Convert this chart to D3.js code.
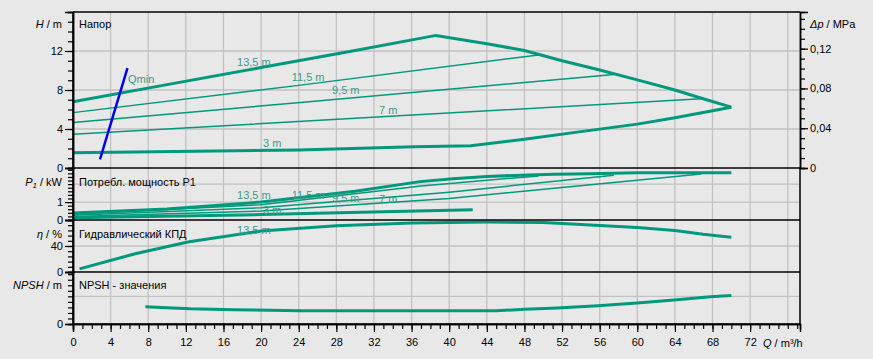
<!DOCTYPE html>
<html>
<head>
<meta charset="utf-8">
<script src="https://cdn.jsdelivr.net/npm/d3@7"></script>
<style>
  body { margin: 0; background: #e8e8e8; }
  text { font-family: "Liberation Sans", Arial, sans-serif; font-size: 11px; }
</style>
</head>
<body>
<div class="canvas"></div>
<script>
// data: [Q m3/h, value]
const qTickLabels = [0, 4, 8, 12, 16, 20, 24, 28, 32, 36, 40, 44, 48, 52, 56, 60, 64, 68, 72];
const headTickLabels = [0, 4, 8, 12];
const dpTickLabels = [0, 0.04, 0.08, 0.12];
const powerTickLabels = [0, 1];
const effTickLabels = [0, 40];
const npshTickLabels = [0];

const curveNames = ['13,5 m', '11,5 m', '9,5 m', '7 m', '3 m'];

const head135 = [[0, 6.8], [10, 8.55], [20, 10.3], [30, 12.05], [38.6, 13.6], [44, 12.75], [48, 12.05], [52, 11.0], [56, 10.05], [60, 9.04], [64, 8.0], [67, 7.1], [70, 6.24]];
const head115 = [[0, 5.68], [24.2, 8.5], [49.5, 11.6]];
const head95 = [[0, 4.66], [24.2, 6.72], [57.5, 9.6]];
const head7 = [[0, 3.46], [30, 5.1], [66.8, 7.1]];
const head3 = [[0, 1.57], [24, 1.85], [36.3, 2.19], [42.3, 2.29], [48, 2.95], [54, 3.73], [60, 4.5], [64, 5.15], [70, 6.24]];
const qmin = [[2.87, 0.89], [5.79, 10.25]];

const power135 = [[0, 0.39], [10, 0.62], [20, 1.0], [30, 1.6], [36.9, 2.14], [40.4, 2.3], [44, 2.42], [47.6, 2.5], [51.2, 2.55], [55, 2.58], [60, 2.63], [70, 2.64]];
const power115 = [[0, 0.32], [20, 0.85], [37, 1.9], [49.5, 2.46]];
const power95 = [[0, 0.26], [20, 0.68], [40, 1.55], [57.5, 2.5]];
const power7 = [[0, 0.2], [20, 0.5], [40, 1.2], [66.8, 2.57]];
const power3 = [[0, 0.12], [20, 0.3], [42.5, 0.57]];

const eff135 = [[0.7, 4.8], [6.5, 27.7], [12.2, 46], [20, 63], [28, 71], [36, 75.5], [44, 76.8], [50, 76], [56, 71.5], [60, 68.5], [64, 63.8], [67, 58], [70, 53.3]];

const npsh = [[7.7, 3.1], [10, 2.95], [12.5, 2.75], [17.1, 2.58], [24.2, 2.4], [45, 2.4], [48, 2.65], [51.5, 2.9], [55.8, 3.3], [60, 3.8], [63.9, 4.33], [67.8, 4.93], [70, 5.17]];

const green = '#00997b';
const labelGreen = '#3a9c8a';

const svg = d3.select('.canvas')
  .append('svg')
  .attr('width', 873)
  .attr('height', 359);

// plot frame
const left = 73, right = 800;
const x = d3.scaleLinear().domain([0, 77.3]).range([left, right]);
const yH = d3.scaleLinear().domain([0, 16]).range([168, 12]);
const yDp = d3.scaleLinear().domain([0, 16 * 0.00980665]).range([168, 12]);
const yP = d3.scaleLinear().domain([0, 2.9]).range([220, 168]);
const yE = d3.scaleLinear().domain([0, 80]).range([272, 220]);
const yN = d3.scaleLinear().domain([0, 9.4]).range([324, 272]);

// grid
const grid = svg.append('g').attr('stroke', '#c2c2c2').attr('stroke-width', 1.3);
grid.selectAll('.vg')
  .data(d3.range(0, 77, 4))
  .enter().append('line')
  .attr('x1', d => x(d)).attr('x2', d => x(d))
  .attr('y1', 12).attr('y2', 324);
const hGrid = [[yH, [4, 8, 12]], [yP, [1, 2]], [yE, [40]], [yN, [5]]];
hGrid.forEach(([sc, vals]) => {
  grid.selectAll(null)
    .data(vals)
    .enter().append('line')
    .attr('x1', left).attr('x2', right)
    .attr('y1', d => sc(d)).attr('y2', d => sc(d));
});

// curves
const line = (sc) => d3.line().x(d => x(d[0])).y(d => sc(d[1]));
const curves = svg.append('g').attr('fill', 'none').attr('stroke', green);

const addCurve = (data, sc, w) => curves.append('path')
  .attr('d', line(sc)(data))
  .attr('stroke-width', w);

addCurve(head135, yH, 3);
addCurve(head115, yH, 1.5);
addCurve(head95, yH, 1.5);
addCurve(head7, yH, 1.5);
addCurve(head3, yH, 3);

addCurve(power135, yP, 3);
addCurve(power115, yP, 1.5);
addCurve(power95, yP, 1.5);
addCurve(power7, yP, 1.5);
addCurve(power3, yP, 3);

addCurve(eff135, yE, 3);
addCurve(npsh, yN, 3);

svg.append('path')
  .attr('d', line(yH)(qmin))
  .attr('fill', 'none')
  .attr('stroke', '#0000ee')
  .attr('stroke-width', 2.5);

// curve labels (position in data units)
const labels = svg.append('g').attr('fill', labelGreen);
const headLabelPos = [[17.44, 10.46], [23.25, 8.92], [27.54, 7.54], [32.54, 5.54], [20.2, 2.15]];
const powerLabelPos = [[17.44, 1.17], [23.25, 1.17], [27.54, 1.03], [32.54, 0.95], [20.2, 0.33]];
curveNames.forEach((name, i) => {
  labels.append('text').attr('x', x(headLabelPos[i][0])).attr('y', yH(headLabelPos[i][1])).text(name);
  labels.append('text').attr('x', x(powerLabelPos[i][0])).attr('y', yP(powerLabelPos[i][1])).text(name);
});
labels.append('text').attr('x', x(17.44)).attr('y', yE(58.5)).text(curveNames[0]);
labels.append('text').attr('x', x(5.85)).attr('y', yH(8.72)).text('Qmin');

// frame lines
const frame = svg.append('g').attr('stroke', '#000').attr('stroke-width', 1.5);
[12, 168, 220, 272, 324].forEach(y => {
  frame.append('line').attr('x1', left).attr('x2', right).attr('y1', y).attr('y2', y);
});

// axes: minor ticks first, then labelled major ticks
const drawAxis = (axisFn, sc, g, minorVals, majorVals, fmt) => {
  g.call(axisFn(sc).tickValues(minorVals).tickSize(5).tickFormat(''));
  g.call(g2 => g2.append('g').call(axisFn(sc).tickValues(majorVals).tickSize(8).tickPadding(2).tickFormat(fmt)));
  g.selectAll('.domain').attr('stroke-width', 1.5);
  g.selectAll('line').attr('stroke-width', 1.2);
  g.selectAll('text').attr('font-size', 11).attr('fill', '#000').attr('font-family', '"Liberation Sans", Arial, sans-serif');
};

const leftAx = svg.append('g').attr('transform', `translate(${left},0)`);
drawAxis(d3.axisLeft, yH, leftAx.append('g'), d3.range(0, 16.01, 1), headTickLabels, d3.format('d'));
drawAxis(d3.axisLeft, yP, leftAx.append('g'), d3.range(0, 2.91, 0.2), powerTickLabels, d3.format('d'));
drawAxis(d3.axisLeft, yE, leftAx.append('g'), d3.range(0, 80.1, 8), effTickLabels, d3.format('d'));
drawAxis(d3.axisLeft, yN, leftAx.append('g'), d3.range(0, 9.41, 1), npshTickLabels, d3.format('d'));

const commaFmt = d => d === 0 ? '0' : d.toFixed(2).replace('.', ',');
const rightAx = svg.append('g').attr('transform', `translate(${right},0)`);
drawAxis(d3.axisRight, yDp, rightAx.append('g'), d3.range(0, 0.1569, 0.01), dpTickLabels, commaFmt);
rightAx.append('line').attr('x1', 0).attr('x2', 0).attr('y1', 168).attr('y2', 324)
  .attr('stroke', '#000').attr('stroke-width', 1.5);

const bottomAx = svg.append('g').attr('transform', 'translate(0,324)');
drawAxis(d3.axisBottom, x, bottomAx, d3.range(0, 77.3, 1), qTickLabels, d3.format('d'));
bottomAx.selectAll('text').attr('dy', '1.1em');
svg.append('line').attr('x1', left).attr('x2', left).attr('y1', 12).attr('y2', 324)
  .attr('stroke', '#000').attr('stroke-width', 1.5);

// axis titles
const titles = svg.append('g').attr('fill', '#000');
const axisTitle = (xx, yy, anchor, italicPart, rest) => {
  const t = titles.append('text').attr('x', xx).attr('y', yy).attr('text-anchor', anchor);
  t.append('tspan').attr('font-style', 'italic').text(italicPart);
  t.append('tspan').text(rest);
  return t;
};
axisTitle(62, 28, 'end', 'H', ' / m');
const p1 = titles.append('text').attr('x', 62).attr('y', 186).attr('text-anchor', 'end');
p1.append('tspan').attr('font-style', 'italic').text('P');
p1.append('tspan').attr('font-style', 'italic').attr('font-size', 8).attr('dy', 2).text('1');
p1.append('tspan').attr('dy', -2).text(' / kW');
axisTitle(62, 238, 'end', 'η', ' / %');
axisTitle(62, 289, 'end', 'NPSH', ' / m');
axisTitle(810, 28, 'start', 'Δp', ' / MPa');
axisTitle(763, 347, 'start', 'Q', ' / m³/h');

// panel titles
const panelTitles = [['Напор', 28], ['Потребл. мощность P1', 186], ['Гидравлический КПД', 238], ['NPSH - значения', 289]];
panelTitles.forEach(([t, yy]) => {
  titles.append('text').attr('x', 79).attr('y', yy).text(t);
});
</script>
</body>
</html>
